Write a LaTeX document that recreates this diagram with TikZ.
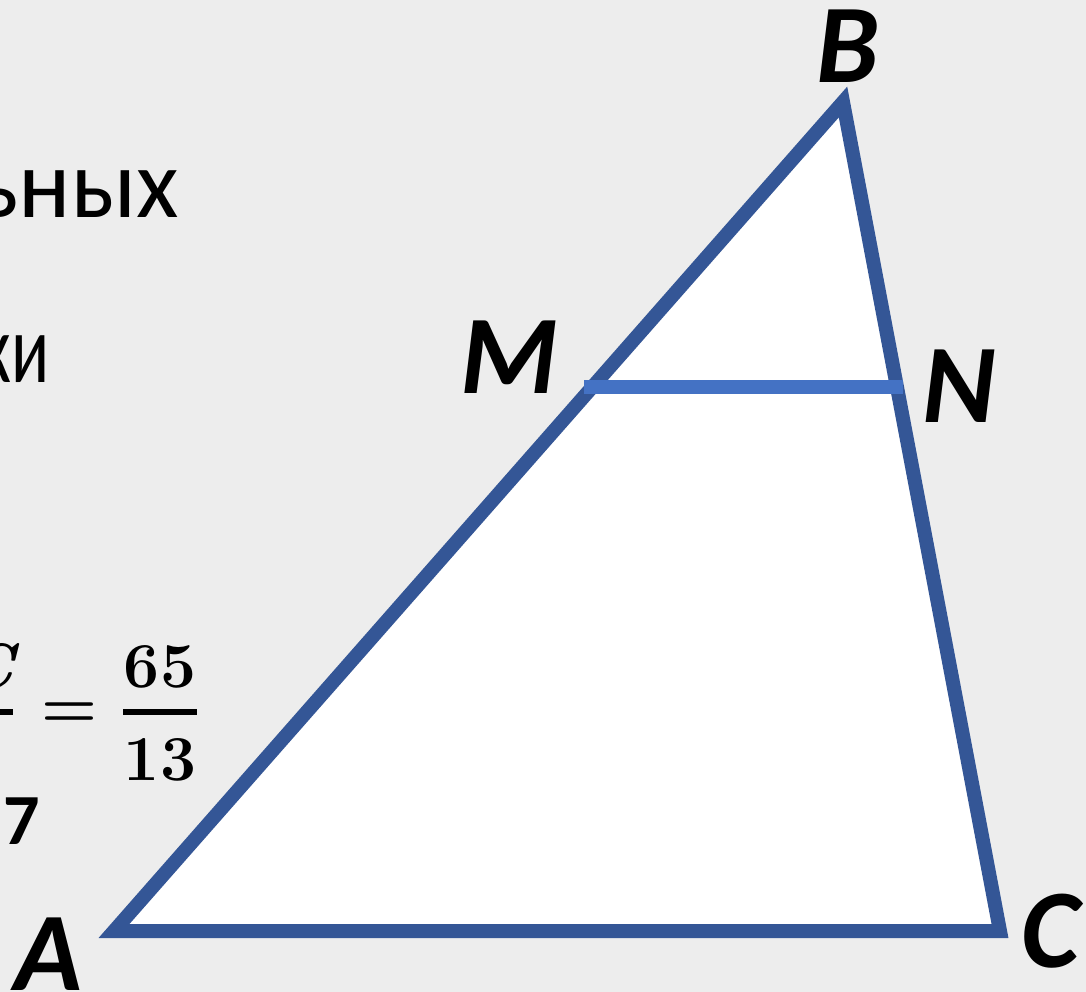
\documentclass[tikz,border=0pt]{standalone}
\usepackage{fontspec}
\newfontfamily\calfont{Carlito}
\definecolor{bg}{HTML}{EDEDED}
\definecolor{tri}{RGB}{52,86,150}
\definecolor{mncol}{HTML}{4472C4}
\begin{document}
\begin{tikzpicture}[x=1pt,y=-1pt,
  lbl/.style={font=\calfont\bfseries\itshape\fontsize{112}{112}\selectfont, inner sep=0pt, anchor=base},
  side/.style={draw=tri, line width=14pt, line join=miter},
  midline/.style={draw=mncol, line width=14pt},
  bodytext/.style={font=\calfont\fontsize{98}{98}\selectfont, inner sep=0pt, anchor=base east},
  mathtext/.style={font=\bfseries\fontsize{64}{64}\selectfont, inner sep=0pt, anchor=base},
  fracbar/.style={draw=black, line width=6pt}]
\path[use as bounding box, fill=bg] (0,0) rectangle (1086,992);
\clip (0,0) rectangle (1086,992);
% triangle
\coordinate (A) at (114,931);
\coordinate (B) at (843,102);
\coordinate (C) at (1000,931);
\coordinate (M) at (584,387);
\coordinate (N) at (903,387);
\filldraw[fill=white, side] (A) -- (B) -- (C) -- cycle;
\draw[midline] (M) -- (N);
% vertex labels
\node[lbl] (lA) at (48,990) {A};
\node[lbl] (lB) at (848,83) {B};
\node[lbl] (lC) at (1051,967) {C};
\node[lbl] (lM) at (509,393) {M};
\node[lbl] (lN) at (959,422) {N};
% cut-off text at left
\node[bodytext] (t1) at (179,218) {ьных};
\node[bodytext] (t2) at (50,382) {\scalebox{0.72}[1]{ки}};
% partial fraction
\node[font=\bfseries\itshape\fontsize{64}{64}\selectfont, inner sep=0pt, anchor=base east] (fc) at (15,688) {C};
\coordinate (lb1) at (-60,712);
\coordinate (lb2) at (13,712);
\draw[fracbar] (lb1) -- (lb2);
\node[mathtext] (eq) at (69,727) {=};
\node[mathtext] (num) at (160,687) {65};
\node[mathtext] (den) at (160,780) {13};
\coordinate (rb1) at (123,712);
\coordinate (rb2) at (197,712);
\draw[fracbar] (rb1) -- (rb2);
\node[font=\calfont\bfseries\fontsize{72}{72}\selectfont, inner sep=0pt, anchor=base] (seven) at (22,844) {7};
\end{tikzpicture}
\end{document}
